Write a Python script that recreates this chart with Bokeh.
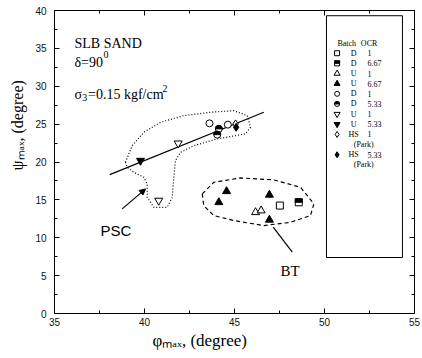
import numpy as np
from bokeh.plotting import figure
from bokeh.models import (Range1d, LinearAxis, SingleIntervalTicker, Label,
                          BoxAnnotation, Arrow, NormalHead, Title)
from bokeh.embed import file_html
from bokeh.resources import INLINE

# ---------------- data ----------------
d1_sq_x = [47.52];  d1_sq_y = [14.25]                       # Batch D, OCR 1
d667_sq_x = [48.57]; d667_sq_y = [14.68]                    # Batch D, OCR 6.67
u1_tri_x = [46.17, 46.48]; u1_tri_y = [13.36, 13.59]        # Batch U, OCR 1
u667_tri_x = [44.56, 44.13, 46.94, 46.94]                   # Batch U, OCR 6.67
u667_tri_y = [16.13, 14.68, 15.66, 12.36]
d1_circ_x = [43.61, 44.63]; d1_circ_y = [25.10, 24.93]      # Batch D, OCR 1
d533_circ_x = [44.13, 44.04]; d533_circ_y = [24.37, 23.61]  # Batch D, OCR 5.33
u1_itri_x = [41.87, 40.79]; u1_itri_y = [22.47, 14.91]      # Batch U, OCR 1
u533_itri_x = [39.78]; u533_itri_y = [20.18]                # Batch U, OCR 5.33
hs1_x = [45.06]; hs1_y = [25.03]                            # HS 1 (Park)
hs533_x = [45.09]; hs533_y = [24.58]                        # HS 5.33 (Park)

fit_x = [38.07, 46.63]; fit_y = [18.34, 26.56]

psc_x = [38.94, 39.32, 39.96, 40.89, 42.18, 43.67, 44.96, 45.71, 45.89, 45.61,
         44.04, 42.74, 42.00, 41.72, 41.63, 41.54, 41.26, 40.52, 40.15, 40.15,
         39.96, 39.41, 39.04]
psc_y = [19.96, 22.16, 23.92, 25.24, 26.12, 26.56, 26.78, 26.12, 24.58, 23.71,
         23.05, 22.16, 21.28, 20.18, 17.98, 15.34, 14.02, 14.02, 15.34, 17.11,
         17.98, 18.64, 19.30]
bt_x = [43.21, 43.85, 45.33, 47.18, 48.67, 49.41, 49.22, 48.11, 46.63, 44.96, 43.85, 43.29]
bt_y = [15.79, 17.32, 17.90, 17.64, 16.66, 14.47, 12.93, 12.04, 11.61, 12.27, 12.93, 14.25]

psc_arrow_x = [38.76, 40.06]; psc_arrow_y = [13.81, 16.45]
bt_arrow_x = [47.15, 48.21]; bt_arrow_y = [11.39, 8.09]

batch = ["D", "D", "U", "U", "D", "D", "U", "U", "HS", "HS"]
ocr = ["1", "6.67", "1", "6.67", "1", "5.33", "1", "5.33", "1", "5.33"]
park = [False] * 8 + [True, True]
series_x = [d1_sq_x, d667_sq_x, u1_tri_x, u667_tri_x, d1_circ_x, d533_circ_x,
            u1_itri_x, u533_itri_x, hs1_x, hs533_x]
series_y = [d1_sq_y, d667_sq_y, u1_tri_y, u667_tri_y, d1_circ_y, d533_circ_y,
            u1_itri_y, u533_itri_y, hs1_y, hs533_y]

x_range = (35, 55)
y_range = (0, 40)
tick_step = 5
x_title = "φₘₐₓ, (degree)"
y_title = "ψₘₐₓ, (degree)"

# ---------------- styles ----------------
styles = ["sq_open", "sq_half", "tri_open", "tri_fill", "circ_open", "circ_half",
          "itri_open", "itri_fill", "dia_open", "dia_fill"]
shapes = {"sq": "square", "tri": "triangle", "circ": "circle",
          "itri": "inverted_triangle", "dia": "diamond"}
SERIF = "Liberation Serif"
SANS = "Liberation Sans"

W, H = 422, 358
p = figure(width=W, height=H, x_range=Range1d(*x_range), y_range=Range1d(*y_range),
           output_backend="svg", toolbar_location=None,
           min_border_left=54, min_border_right=8, min_border_top=10, min_border_bottom=45)
p.grid.visible = False
p.outline_line_color = "black"
p.outline_line_width = 1
p.background_fill_color = "white"
p.border_fill_color = "white"

YPX = (y_range[1] - y_range[0]) / 303.0   # data units per pixel (approx)

def style_axis(ax, labels=True):
    ax.ticker = SingleIntervalTicker(interval=tick_step, num_minor_ticks=2)
    ax.major_tick_in = 5
    ax.major_tick_out = 0
    ax.minor_tick_in = 3
    ax.minor_tick_out = 0
    ax.axis_line_color = "black"
    ax.major_tick_line_color = "black"
    ax.minor_tick_line_color = "black"
    ax.major_label_text_font = SANS
    if labels:
        ax.major_label_text_font_size = "10px"
        ax.major_label_text_color = "#111111"
    else:
        ax.major_label_text_font_size = "0px"
        ax.major_label_text_color = None
        ax.major_label_standoff = 0

style_axis(p.xaxis[0]); p.xaxis[0].major_label_standoff = 4
style_axis(p.yaxis[0]); p.yaxis[0].major_label_standoff = 8
top = LinearAxis(); style_axis(top, labels=False); p.add_layout(top, "above")
right = LinearAxis(); style_axis(right, labels=False); p.add_layout(right, "right")

# axis titles placed as Titles so they can be shifted like the reference
p.add_layout(Title(text=x_title, align="left", offset=98, standoff=0, text_color="black",
                   text_font=SERIF, text_font_size="17px", text_font_style="normal"), "below")
p.add_layout(Title(text=y_title, align="left", offset=143, standoff=13, text_color="black",
                   text_font=SERIF, text_font_size="16px", text_font_style="normal"), "left")

def draw_marker(kind, xs, ys, size):
    shp, fill = kind.split("_")
    fc = "black" if fill == "fill" else "white"
    sz = size + 1 if shp in ("tri", "itri", "dia") else size
    p.scatter(xs, ys, marker=shapes[shp], size=sz, fill_color=fc,
              line_color="black", line_width=1)
    if fill == "half":
        if shp == "circ":
            p.wedge(xs, ys, radius=size / 2.0, radius_units="screen",
                    start_angle=0, end_angle=np.pi, fill_color="black", line_color="black")
        else:
            p.rect(xs, [y + size / 4.0 * YPX for y in ys], width=size, height=size / 2.0,
                   width_units="screen", height_units="screen",
                   fill_color="black", line_color="black")

# envelopes, fitted line, arrows
p.line(psc_x + psc_x[:1], psc_y + psc_y[:1], line_color="black", line_width=1.2, line_dash="1 2")
p.line(bt_x + bt_x[:1], bt_y + bt_y[:1], line_color="black", line_width=1.2, line_dash="4 3")
p.line(fit_x, fit_y, line_color="black", line_width=1.2)
p.add_layout(Arrow(end=NormalHead(size=6, fill_color="black", line_color="black"),
                   x_start=psc_arrow_x[0], y_start=psc_arrow_y[0],
                   x_end=psc_arrow_x[1], y_end=psc_arrow_y[1], line_width=1.2))
p.add_layout(Arrow(end=None, x_start=bt_arrow_x[0], y_start=bt_arrow_y[0],
                   x_end=bt_arrow_x[1], y_end=bt_arrow_y[1], line_width=1.2))

for k, xs, ys in zip(styles, series_x, series_y):
    draw_marker(k, xs, ys, 7)

# ---------------- texts ----------------
def lab(text, x, y, size, font=SERIF, angle=0.0, align="left", baseline="alphabetic"):
    p.add_layout(Label(x=x, y=y, text=text, text_font=font, text_font_size=f"{size}px",
                       text_color="black", angle=angle, text_align=align,
                       text_baseline=baseline))

lab("SLB SAND", 36.11, 35.68, 14)
lab("δ=90", 36.11, 33.17, 14)
lab("0", 37.72, 34.19, 10)
lab("σ", 36.11, 28.87, 14)
lab("3", 36.54, 28.45, 10)
lab("=0.15 kgf/cm", 36.86, 28.87, 14)
lab("2", 41.00, 29.70, 10)

lab("PSC", 37.56, 10.95, 15, font=SANS)
lab("BT", 47.56, 5.67, 15)

# ---------------- legend (drawn by hand) ----------------
LEG_L, LEG_R, LEG_T, LEG_B = 50.11, 54.33, 39.31, 7.39
p.add_layout(BoxAnnotation(left=LEG_L, right=LEG_R, top=LEG_T, bottom=LEG_B,
                           fill_alpha=0, line_color="black", line_alpha=1, line_width=1))
HEAD_Y = 35.60
ROW0 = 34.36
STEP = 1.34
MARK_X, BATCH_X, OCR_X, PARK_X = 50.70, 51.62, 52.39, 52.18
lab("Batch", 50.72, HEAD_Y, 8, baseline="middle")
lab("OCR", 52.02, HEAD_Y, 8, baseline="middle")
row = 0
for k, b, o, pk in zip(styles, batch, ocr, park):
    yy = ROW0 - STEP * row
    draw_marker(k, [MARK_X], [yy], 5)
    lab(b, BATCH_X, yy, 8, align="center", baseline="middle")
    lab(o, OCR_X, yy, 8, baseline="middle")
    row += 1
    if pk:
        lab("(Park)", PARK_X, ROW0 - STEP * row, 8, align="center", baseline="middle")
        row += 1

open("out.html", "w").write(file_html(p, INLINE))
